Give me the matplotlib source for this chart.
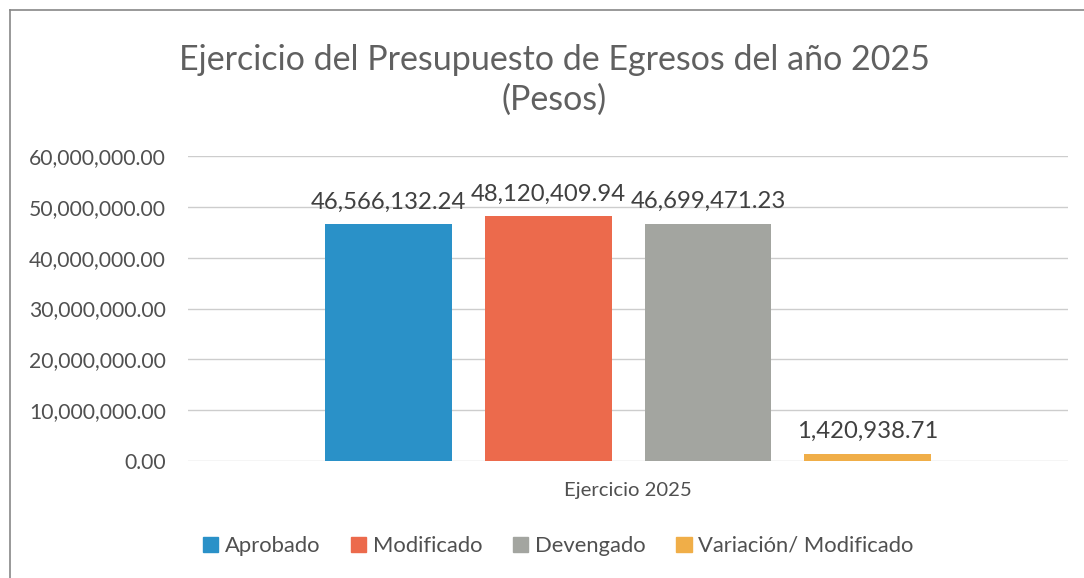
import matplotlib
matplotlib.use("Agg")
import matplotlib.pyplot as plt
from matplotlib.lines import Line2D
from matplotlib.ticker import FuncFormatter, MultipleLocator

series = ["Aprobado", "Modificado", "Devengado", "Variación/ Modificado"]
values = [46566132.24, 48120409.94, 46699471.23, 1420938.71]
category = "Ejercicio 2025"
colors = ["#2A91C8", "#EC6A4C", "#A3A5A0", "#F0AE48"]
title = "Ejercicio del Presupuesto de Egresos del año 2025\n(Pesos)"

plt.rcParams['font.family'] = ['Lato', 'DejaVu Sans']
W, H = 1084, 578
fig = plt.figure(figsize=(W/100, H/100), dpi=100)
ax = fig.add_axes([188/W, 1-461/H, 880/W, 305/H])

step = 0.1818
width = 0.1443
for i, (s, v, c) in enumerate(zip(series, values, colors)):
    x = 0.5 + (i - 1.5) * step
    ax.bar(x, v, width=width, color=c, label=s, zorder=3)
    ax.text(x, v + 2300000, f"{v:,.2f}", ha="center", va="bottom",
            fontsize=17.2, color="#404040", zorder=4)

ax.set_xlim(0, 1)
ax.set_ylim(0, 60000000)
ax.yaxis.set_major_locator(MultipleLocator(10000000))
ax.yaxis.set_major_formatter(FuncFormatter(lambda v, p: f"{v:,.2f}"))
ax.grid(axis="y", color="#CDCDCD", linewidth=1, zorder=0)
for sp in ax.spines.values():
    sp.set_visible(False)
ax.tick_params(axis="y", length=0, pad=16, labelsize=15.2, labelcolor="#505050")
ax.set_xticks([0.5])
ax.set_xticklabels([category], fontsize=14.6, color="#505050")
ax.tick_params(axis="x", length=0, pad=15)

fig.text(554/W, 1-80/H, title, ha="center", va="center", fontsize=24.5,
         color="#606060", linespacing=1.3)

handles = [plt.Rectangle((0, 0), 1, 1, color=c) for c in colors]
fig.legend(handles, series, loc="center", bbox_to_anchor=(558/W, 1-546/H),
           ncol=4, frameon=False, fontsize=15.8, handlelength=0.7,
           handleheight=0.7, handletextpad=0.3, columnspacing=1.4,
           labelcolor="#505050")

fig.add_artist(Line2D([10/W, 10/W], [0, 1-10/H], color="#888888", lw=1.2,
                      transform=fig.transFigure))
fig.add_artist(Line2D([10/W, 1], [1-10/H, 1-10/H], color="#888888", lw=1.2,
                      transform=fig.transFigure))

fig.savefig("out.png", dpi=100, facecolor="white")
